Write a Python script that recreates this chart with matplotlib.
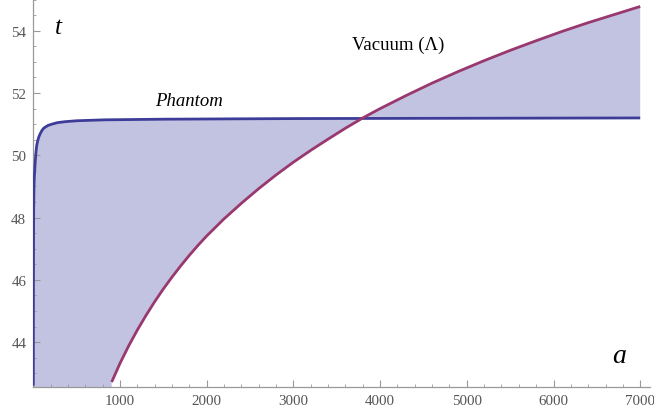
import matplotlib
matplotlib.use("Agg")
import matplotlib.pyplot as plt
from matplotlib.ticker import MultipleLocator, FixedLocator
from matplotlib.patches import Polygon

# Phantom curve (a, t)
phantom_a = [0, 1, 2, 4, 8, 12, 20, 30, 39, 50, 60, 77, 100, 120, 135, 170, 212, 280, 365,
             500, 827, 1500, 3000, 5000, 7000]
phantom_t = [42.60, 44.5, 46.5, 48.2, 49.0, 49.3, 49.7, 50.08, 50.31, 50.46, 50.56, 50.68,
             50.80, 50.87, 50.90, 50.96, 51.00, 51.05, 51.08, 51.11, 51.14, 51.16,
             51.18, 51.19, 51.20]

# Vacuum (Lambda) curve (a, t)
vacuum_a = [904, 1000, 1100, 1200, 1300, 1400, 1500, 1600, 1700, 1800, 1900, 2000,
            2200, 2400, 2600, 2800, 3000, 3200, 3400, 3600, 3800, 4000, 4300, 4600,
            4900, 5200, 5500, 5800, 6100, 6400, 6700, 7000]
vacuum_t = [42.72, 43.32, 43.88, 44.39, 44.86, 45.30, 45.71, 46.09, 46.45, 46.79, 47.11,
            47.41, 47.96, 48.46, 48.93, 49.37, 49.78, 50.16, 50.52, 50.87, 51.20, 51.50,
            51.92, 52.32, 52.69, 53.04, 53.37, 53.68, 53.98, 54.26, 54.52, 54.78]

x_ticks = [1000, 2000, 3000, 4000, 5000, 6000, 7000]
y_ticks = [44, 46, 48, 50, 52, 54]

XMIN, XMAX = 0, 7113
YMIN, YMAX = 42.56, 55.02

fig = plt.figure(figsize=(6.54, 4.10), dpi=100)
ax = fig.add_axes([33.3 / 654, (410 - 388) / 410, (650 - 33.3) / 654, 388 / 410])
ax.set_xlim(XMIN, XMAX)
ax.set_ylim(YMIN, YMAX)

blue = "#3d3d99"
magenta = "#99386f"
fillc = "#c2c3e0"

# filled region between curves (polygon from the data points)
verts = list(zip(phantom_a, phantom_t))
verts += list(zip(vacuum_a[::-1], vacuum_t[::-1]))
verts += [(vacuum_a[0], YMIN), (phantom_a[0], YMIN)]
ax.add_patch(Polygon(verts, closed=True, facecolor=fillc, edgecolor="none", zorder=1))

ax.plot(phantom_a, phantom_t, color=blue, lw=2.0, zorder=3, solid_capstyle="butt")
ax.plot(vacuum_a, vacuum_t, color=magenta, lw=2.0, zorder=3, solid_capstyle="butt")

for s in ["top", "right"]:
    ax.spines[s].set_visible(False)
for s in ["left", "bottom"]:
    ax.spines[s].set_color("#999999")
    ax.spines[s].set_linewidth(0.9)

ax.xaxis.set_major_locator(FixedLocator(x_ticks))
ax.yaxis.set_major_locator(FixedLocator(y_ticks))
ax.xaxis.set_minor_locator(MultipleLocator(200))
ax.yaxis.set_minor_locator(MultipleLocator(0.5))
ax.tick_params(which="major", direction="in", length=5, width=0.8, color="#999999",
               labelsize=10.8, labelcolor="#555555", pad=5)
ax.tick_params(which="minor", direction="in", length=2.5, width=0.6, color="#999999")
ax.set_xticklabels([str(v) for v in x_ticks], family="Liberation Serif")
ax.set_yticklabels([str(v) for v in y_ticks], family="Liberation Serif")

ax.text(55 / 654, 1 - 28 / 410, "t", transform=fig.transFigure, fontsize=18,
        style="italic", family="Liberation Serif", ha="left", va="center")
ax.text(612 / 654, 1 - 357 / 410, "a", transform=fig.transFigure, fontsize=20,
        style="italic", family="Liberation Serif", ha="left", va="center")
ax.text(155 / 654, 1 - 101 / 410, "Phantom", transform=fig.transFigure, fontsize=13.5,
        style="italic", family="Liberation Serif", ha="left", va="center")
ax.text(352 / 654, 1 - 45 / 410, "Vacuum (\u039b)", transform=fig.transFigure,
        fontsize=13.5, family="Liberation Serif", ha="left", va="center")

fig.savefig("out.png", dpi=100)
